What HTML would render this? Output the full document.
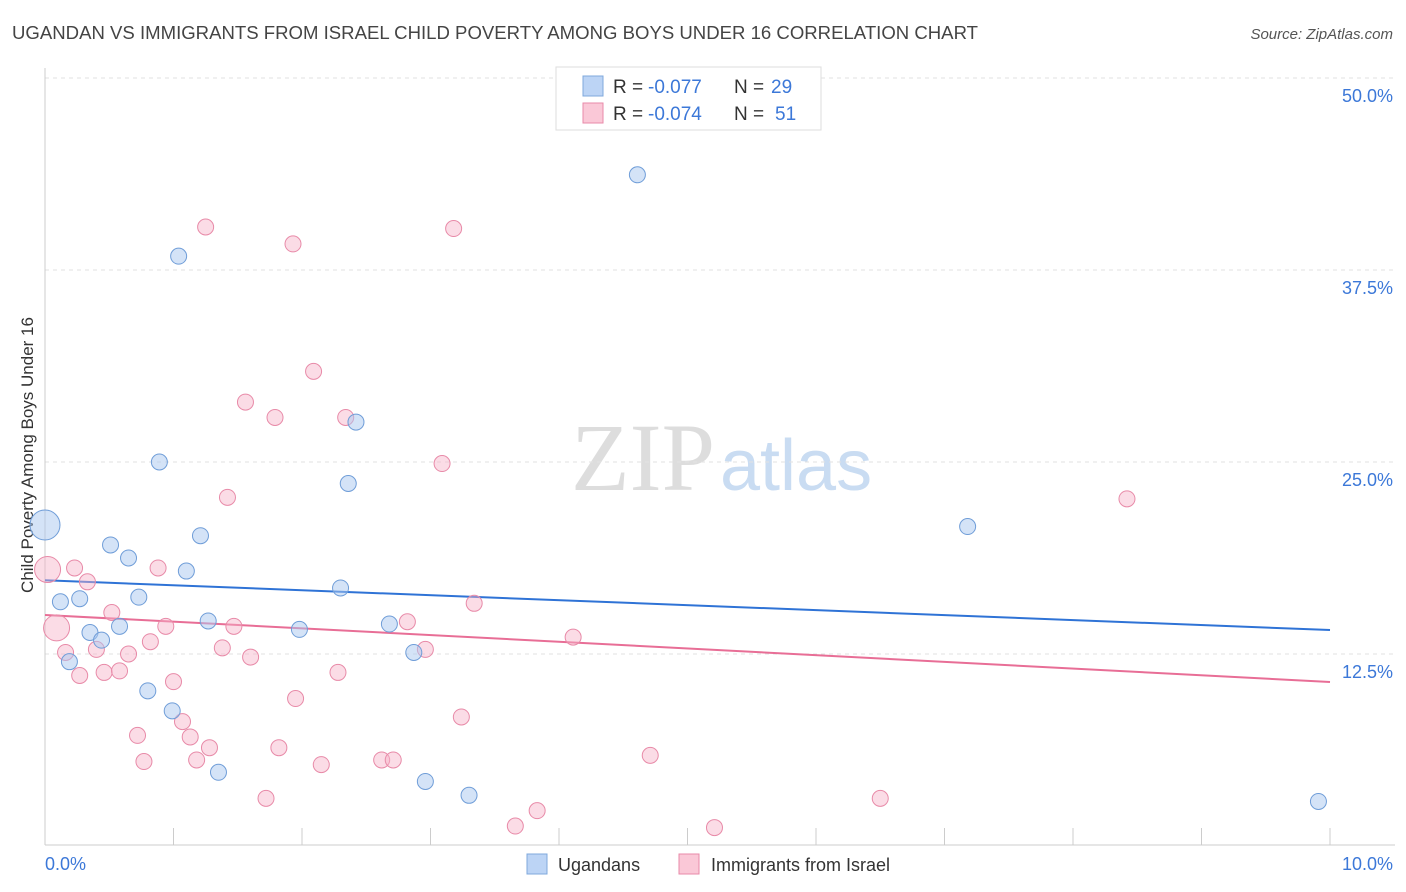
<!DOCTYPE html>
<html><head><meta charset="utf-8"><style>
body{margin:0;background:#fff;font-family:"Liberation Sans",sans-serif}
svg{display:block}
</style></head><body>
<svg id="chart" width="1406" height="892">
<text x="12" y="39" font-size="18" fill="#444" textLength="966" lengthAdjust="spacingAndGlyphs">UGANDAN VS IMMIGRANTS FROM ISRAEL CHILD POVERTY AMONG BOYS UNDER 16 CORRELATION CHART</text>
<text x="1393" y="39" font-size="15" fill="#555" font-style="italic" text-anchor="end">Source: ZipAtlas.com</text>
<g>
<text x="715" y="490" font-size="96" fill="#ddd" font-family="Liberation Serif,serif" text-anchor="end">ZIP</text>
<text x="720" y="490" font-size="72" fill="#c9dcf2">atlas</text>
</g>
<g id="grid"></g>
<g id="axes"></g>
<line x1="45" y1="68" x2="45" y2="845" stroke="#ccc"/>
<line x1="45" y1="845" x2="1395" y2="845" stroke="#ccc"/>
<text transform="translate(33,455) rotate(-90)" font-size="17" fill="#333" text-anchor="middle">Child Poverty Among Boys Under 16</text>
<text x="45" y="870" font-size="18" fill="#3c78d8">0.0%</text>
<text x="1393" y="870" font-size="18" fill="#3c78d8" text-anchor="end">10.0%</text>
<g id="trends"></g>
<g id="points"></g>
<g>
<rect x="556" y="67" width="265" height="63" fill="#fff" stroke="#ddd"/>
<rect x="583" y="76" width="20" height="20" fill="#bcd4f5" stroke="#7fa8dc"/>
<rect x="583" y="103" width="20" height="20" fill="#fac8d7" stroke="#e88aa8"/>
<text x="613" y="93" font-size="19" fill="#333">R =</text>
<text x="648" y="93" font-size="19" fill="#3c78d8">-0.077</text>
<text x="734" y="93" font-size="19" fill="#333">N =</text>
<text x="771" y="93" font-size="19" fill="#3c78d8">29</text>
<text x="613" y="120" font-size="19" fill="#333">R =</text>
<text x="648" y="120" font-size="19" fill="#3c78d8">-0.074</text>
<text x="734" y="120" font-size="19" fill="#333">N =</text>
<text x="775" y="120" font-size="19" fill="#3c78d8">51</text>
</g>
<g>
<rect x="527" y="854" width="20" height="20" fill="#bcd4f5" stroke="#7fa8dc"/>
<text x="558" y="871" font-size="18" fill="#333">Ugandans</text>
<rect x="679" y="854" width="20" height="20" fill="#fac8d7" stroke="#e88aa8"/>
<text x="711" y="871" font-size="18" fill="#333">Immigrants from Israel</text>
</g>
</svg>
<script>
const yTicks=[12.5,25,37.5,50];
const yTickLabels=["12.5%","25.0%","37.5%","50.0%"];
const xTicks=[0,1,2,3,4,5,6,7,8,9,10];
const blueX=[0,0.12,0.27,0.19,0.35,0.44,0.51,0.58,0.65,0.73,0.80,0.89,0.99,1.04,1.10,1.21,1.27,1.35,1.98,2.30,2.36,2.42,2.68,2.87,2.96,3.30,4.61,7.18,9.91];
const blueY=[20.9,15.9,16.1,12.0,13.9,13.4,19.6,14.3,18.75,16.2,10.1,25.0,8.8,38.4,17.9,20.2,14.65,4.8,14.1,16.8,23.6,27.6,14.45,12.6,4.2,3.3,43.7,20.8,2.9];
const pinkX=[0.02,0.09,0.16,0.23,0.27,0.33,0.40,0.46,0.52,0.58,0.65,0.72,0.77,0.82,0.88,0.94,1.00,1.07,1.13,1.18,1.25,1.28,1.38,1.42,1.47,1.56,1.60,1.72,1.79,1.82,1.93,1.95,2.09,2.15,2.28,2.34,2.62,2.71,2.82,2.96,3.09,3.18,3.24,3.34,3.66,3.83,4.11,4.71,5.21,6.50,8.42];
const pinkY=[18.0,14.2,12.6,18.1,11.1,17.2,12.8,11.3,15.2,11.4,12.5,7.2,5.5,13.3,18.1,14.3,10.7,8.1,7.1,5.6,40.3,6.4,12.9,22.7,14.3,28.9,12.3,3.1,27.9,6.4,39.2,9.6,30.9,5.3,11.3,27.9,5.6,5.6,14.6,12.8,24.9,40.2,8.4,15.8,1.3,2.3,13.6,5.9,1.2,3.1,22.6];
const blueTrend=[17.3,14.06];
const pinkTrend=[15.04,10.68];
const NS="http://www.w3.org/2000/svg";
const sx=v=>45+v*128.5, sy=v=>846-v*15.36;
function mk(tag,attrs,parent){const e=document.createElementNS(NS,tag);for(const k in attrs)e.setAttribute(k,attrs[k]);document.getElementById(parent).appendChild(e);return e;}
yTicks.forEach((t,i)=>{
 const l=mk('line',{x1:45,x2:1395,y1:sy(t),y2:sy(t),stroke:'#e2e2e2','stroke-dasharray':'4,4'},'grid');
 
 
 const tx=mk('text',{x:1393,y:sy(t)+24,'font-size':18,fill:'#3c78d8','text-anchor':'end'},'grid');
 tx.textContent=yTickLabels[i];
 
 
});
xTicks.forEach(t=>{
 const l=mk('line',{x1:sx(t),x2:sx(t),y1:828,y2:845,stroke:'#ccc'},'axes');
 
 
});
let bt=mk('line',{x1:sx(0),x2:sx(10),y1:sy(blueTrend[0]),y2:sy(blueTrend[1]),stroke:'#2f73d6','stroke-width':2},'trends');


let pt=mk('line',{x1:sx(0),x2:sx(10),y1:sy(pinkTrend[0]),y2:sy(pinkTrend[1]),stroke:'#e86e96','stroke-width':2},'trends');


pinkX.forEach((x,i)=>{
 const c=mk('circle',{cx:sx(x),cy:sy(pinkY[i]),r:i<2?13:8,fill:'rgba(247,178,200,0.45)',stroke:'#e88aa8','stroke-width':1},'points');
 
 
});
blueX.forEach((x,i)=>{
 const c=mk('circle',{cx:sx(x),cy:sy(blueY[i]),r:i==0?15:8,fill:'rgba(170,200,240,0.5)',stroke:'#6f9dd8','stroke-width':1},'points');
 
 
});
</script>
</body></html>
